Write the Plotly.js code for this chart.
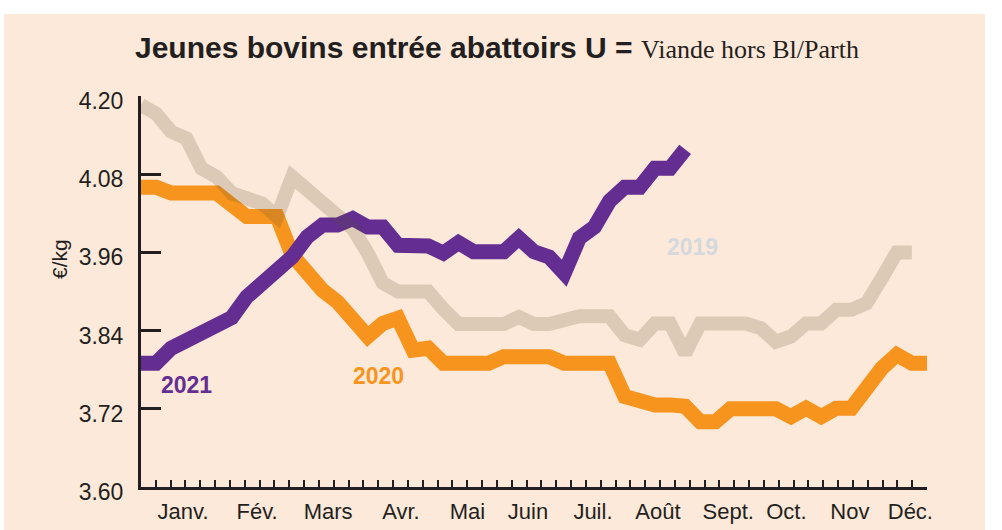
<!DOCTYPE html>
<html>
<head>
<meta charset="utf-8">
<script src="https://cdn.plot.ly/plotly-3.0.1.min.js"></script>
<style>
html,body{margin:0;padding:0;background:#ffffff;width:1002px;height:530px;overflow:hidden;}
#chart{position:absolute;left:4px;top:14px;width:981px;height:516px;}
</style>
</head>
<body>
<div id="chart"></div>
<script>
// Week index (x positions of the weekly points)
const weeks = [0,1,2,3,4,5,6,7,8,9,10,11,12,13,14,15,16,17,18,19,20,21,22,23,24,25,26,
  27,28,29,30,31,32,33,34,35,36,37,38,39,40,41,42,43,44,45,46,47,48,49,50,51,52];

// 2019 (52 weeks shown)
const y2019 = [4.186,4.173,4.145,4.135,4.089,4.076,4.051,4.045,4.035,4.015,4.076,4.056,4.038,
  4.017,3.997,3.959,3.913,3.900,3.900,3.900,3.873,3.850,3.850,3.850,3.850,3.861,3.850,3.850,
  3.857,3.862,3.862,3.862,3.833,3.826,3.851,3.851,3.805,3.851,3.851,3.851,3.851,3.844,3.823,
  3.831,3.851,3.851,3.872,3.872,3.882,3.920,3.960,3.960];

// 2020 (53 weeks)
const y2020 = [4.060,4.060,4.051,4.051,4.051,4.051,4.033,4.015,4.015,4.015,3.956,3.928,3.902,
  3.884,3.856,3.831,3.851,3.859,3.810,3.813,3.790,3.790,3.790,3.790,3.800,3.800,3.800,3.800,
  3.790,3.790,3.790,3.790,3.739,3.731,3.726,3.726,3.724,3.700,3.700,3.720,3.720,3.720,3.720,
  3.708,3.721,3.708,3.721,3.721,3.752,3.782,3.803,3.790,3.790];

// 2021 (weeks 0-36)
const y2021 = [3.790,3.790,3.813,3.824,3.834,3.844,3.860,3.892,3.913,3.933,3.953,3.984,4.002,
  4.002,4.012,3.999,3.999,3.971,3.971,3.970,3.959,3.975,3.961,3.961,3.961,3.982,3.961,3.953,
  3.928,3.982,3.999,4.039,4.060,4.060,4.089,4.089,4.118];

const yTicks = [3.60,3.72,3.84,3.96,4.08,4.20];
const yTickText = ['3.60','3.72','3.84','3.96','4.08','4.20'];
const monthPos = [2.78,7.68,12.38,17.2,21.6,25.6,29.9,34.2,38.85,42.7,46.9,50.9];
const monthLabels = ['Janv.','Fév.','Mars','Avr.','Mai','Juin','Juil.','Août','Sept.','Oct.','Nov','Déc.'];
const yearLabels = ['2021','2020','2019'];

const ink = '#231f20';
const purple = '#632d91';
const orange = '#f7941e';

const traces = [
  {x: weeks.slice(0, y2020.length), y: y2020, mode:'lines', name:'2020',
   line:{color:orange, width:15}, hoverinfo:'skip'},
  {x: weeks.slice(0, y2021.length), y: y2021, mode:'lines', name:'2021',
   line:{color:purple, width:15}, hoverinfo:'skip'},
  {x: weeks.slice(0, y2019.length), y: y2019, mode:'lines', name:'2019',
   line:{color:'rgba(88,79,52,0.2)', width:14}, hoverinfo:'skip'}
];

const layout = {
  width: 981, height: 516,
  margin: {l:137, r:58, t:82, b:43, pad:0},
  paper_bgcolor: '#fde9d9',
  plot_bgcolor: 'rgba(0,0,0,0)',
  showlegend: false,
  font: {family:'"Liberation Sans", Arial, sans-serif', color: ink},
  title: {
    text: '<b>Jeunes bovins entrée abattoirs U =</b> <span style="font-family:\'Liberation Serif\', serif;font-size:26px;font-weight:normal">Viande hors Bl/Parth</span>',
    font: {family:'"Liberation Sans", Arial, sans-serif', size:30, color: ink},
    x: 0.5025, xanchor:'center', xref:'container',
    y: 0.936, yanchor:'middle'
  },
  xaxis: {
    range: [0, 52],
    showgrid: false, zeroline: false,
    showline: true, linecolor: ink, linewidth: 3,
    tickmode: 'array', tickvals: monthPos, ticktext: monthLabels,
    ticks: 'inside', ticklen: 0, tickangle: 0,
    tickfont: {size:22, color: ink},
    ticklabelstandoff: 3,
    minor: {tick0: 0, dtick: 52/53, ticks: 'inside', ticklen: 7, tickwidth: 2, tickcolor: ink, showgrid:false}
  },
  yaxis: {
    range: [3.6, 4.2],
    showgrid: false, zeroline: false,
    showline: true, linecolor: ink, linewidth: 3,
    tickmode: 'array', tickvals: yTicks, ticktext: yTickText,
    ticks: 'inside', ticklen: 20, tickwidth: 3, tickcolor: ink,
    tickfont: {size:23, color: ink},
    ticklabelstandoff: 10,
    ticklabelshift: 5
  },
  annotations: [
    {text:'€/kg', xref:'paper', yref:'y', x:-0.103, y:3.95, textangle:-90,
     showarrow:false, font:{size:21, color: ink}, xanchor:'center', yanchor:'middle'},
    {text:'<b>'+yearLabels[0]+'</b>', xref:'x', yref:'y', x:2.98, y:3.757, showarrow:false,
     font:{size:23, color:purple}, xanchor:'center', yanchor:'middle'},
    {text:'<b>'+yearLabels[1]+'</b>', xref:'x', yref:'y', x:15.68, y:3.771, showarrow:false,
     font:{size:23, color:orange}, xanchor:'center', yanchor:'middle'},
    {text:'<b>'+yearLabels[2]+'</b>', xref:'x', yref:'y', x:36.47, y:3.968, showarrow:false,
     font:{size:23, color:'#d5d8dc'}, xanchor:'center', yanchor:'middle'}
  ]
};

Plotly.newPlot('chart', traces, layout, {staticPlot:true, displayModeBar:false});
</script>
</body>
</html>
